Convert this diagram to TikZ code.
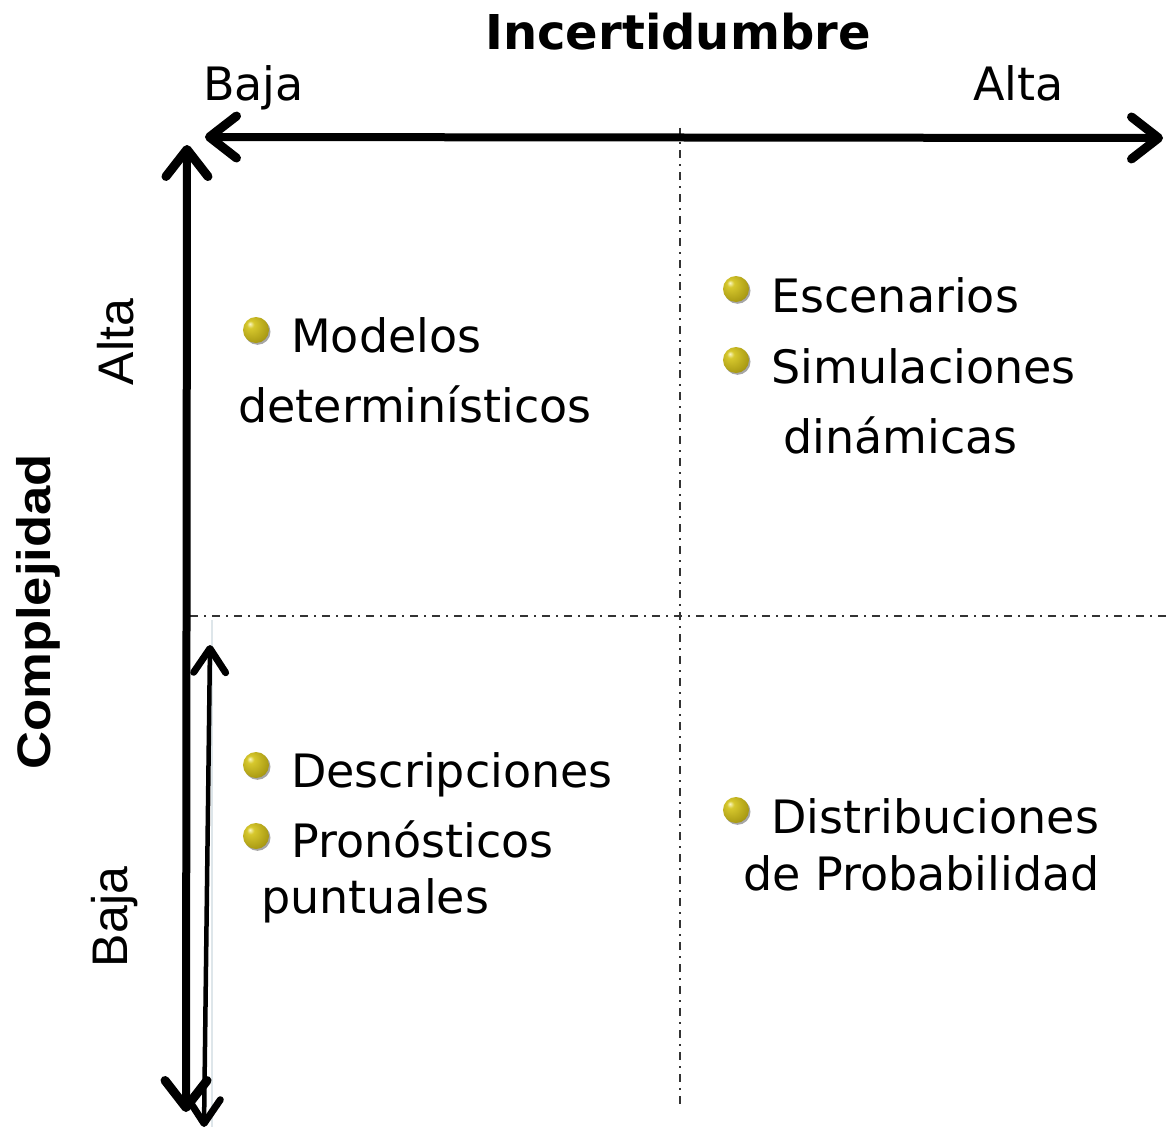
\documentclass[tikz,border=0pt]{standalone}
\usepackage{fontspec}
\setmainfont{DejaVu Sans}
\newfontfamily\arialfont{Liberation Sans}
\usetikzlibrary{arrows.meta,shadows}
\definecolor{faint}{RGB}{222,230,234}
\definecolor{gHi}{RGB}{250,248,200}
\definecolor{gMid}{RGB}{215,200,45}
\definecolor{gLow}{RGB}{170,155,20}
\definecolor{gEdge}{RGB}{95,85,10}
\pgfdeclareradialshading{goldball}{\pgfpoint{-12bp}{12bp}}{%
  color(0bp)=(gHi); color(7bp)=(gMid); color(30bp)=(gLow); color(48bp)=(gEdge); color(60bp)=(gEdge)}
\tikzset{
  lbl/.style={anchor=base west, inner sep=0pt, font=\fontsize{46}{55}\selectfont},
  bulletball/.style={circle, minimum size=26pt, inner sep=0pt, shading=goldball,
     drop shadow={shadow xshift=1.5pt, shadow yshift=-1.8pt, opacity=0.35, fill=black}},
  thickarrow/.style={line width=8pt,
     {Straight Barb[length=27pt,width=42pt,line width=9pt,round]}-{Straight Barb[length=27pt,width=42pt,line width=9pt,round]}},
  thinarrow/.style={line width=4.5pt,
     {Straight Barb[length=24pt,width=32pt,line width=7pt,round]}-{Straight Barb[length=24pt,width=32pt,line width=7pt,round]}},
  dashdot/.style={line width=2pt, black!80, dash pattern=on 8pt off 6pt on 2pt off 6pt},
  sidelbl/.style={inner sep=0pt, rotate=90, font=\arialfont\fontsize{50}{60}\selectfont}
}
\begin{document}
\begin{tikzpicture}[x=1pt,y=-1pt]
\useasboundingbox (0,0) rectangle (1169,1129);
\fill[white] (0,0) rectangle (1169,1129);

% dash-dot quadrant lines
\coordinate (vT) at (680,128);
\coordinate (vB) at (680,1105);
\coordinate (hLq) at (190,616);
\coordinate (hRq) at (1168,616);
\draw[dashdot] (vT) -- (vB);
\draw[dashdot] (hLq) -- (hRq);

% faint line
\coordinate (fT) at (212,620);
\coordinate (fB) at (212,1127);
\draw[faint, line width=1.5pt] (fT) -- (fB);

% arrows
\coordinate (hL) at (205,137);
\coordinate (hR) at (1163,138);
\draw[thickarrow] (hL) -- (hR);
\coordinate (vTa) at (187,145);
\coordinate (vBa) at (186,1112);
\draw[thickarrow] (vTa) -- (vBa);
\coordinate (tT) at (210,645);
\coordinate (tB) at (204,1127);
\draw[thinarrow] (tT) -- (tB);

% titles
\node[anchor=base, inner sep=0pt, font=\bfseries\fontsize{48}{56}\selectfont] (title) at (678,50) {Incertidumbre};
\node[lbl] (xbaja) at (203,101) {Baja};
\node[lbl] (xalta) at (973,101) {Alta};
\node[inner sep=0pt, rotate=90, font=\arialfont\bfseries\fontsize{47}{54}\selectfont] (ylab) at (38,612) {\scalebox{1.12}[1]{Complejidad}};
\node[sidelbl] (yalta) at (116,342) {Alta};
\node[sidelbl] (ybaja) at (115,917) {Baja};

% quadrant contents
\node[bulletball] (b1) at (256,330) {};
\node[lbl] (t1) at (291,352) {Modelos};
\node[lbl] (t1b) at (238,422) {determinísticos};

\node[bulletball] (b2) at (736,289) {};
\node[lbl] (t2) at (771,312) {Escenarios};
\node[bulletball] (b3) at (736,360) {};
\node[lbl] (t3) at (771,383) {Simulaciones};
\node[lbl] (t3b) at (783,453) {dinámicas};

\node[bulletball] (b4) at (256,765) {};
\node[lbl] (t4) at (291,787) {Descripciones};
\node[bulletball] (b5) at (256,836) {};
\node[lbl] (t5) at (291,857) {Pronósticos};
\node[lbl] (t5b) at (261,913) {puntuales};

\node[bulletball] (b6) at (736,810) {};
\node[lbl] (t6) at (771,833) {Distribuciones};
\node[lbl] (t6b) at (743,890) {de Probabilidad};
\end{tikzpicture}
\end{document}
